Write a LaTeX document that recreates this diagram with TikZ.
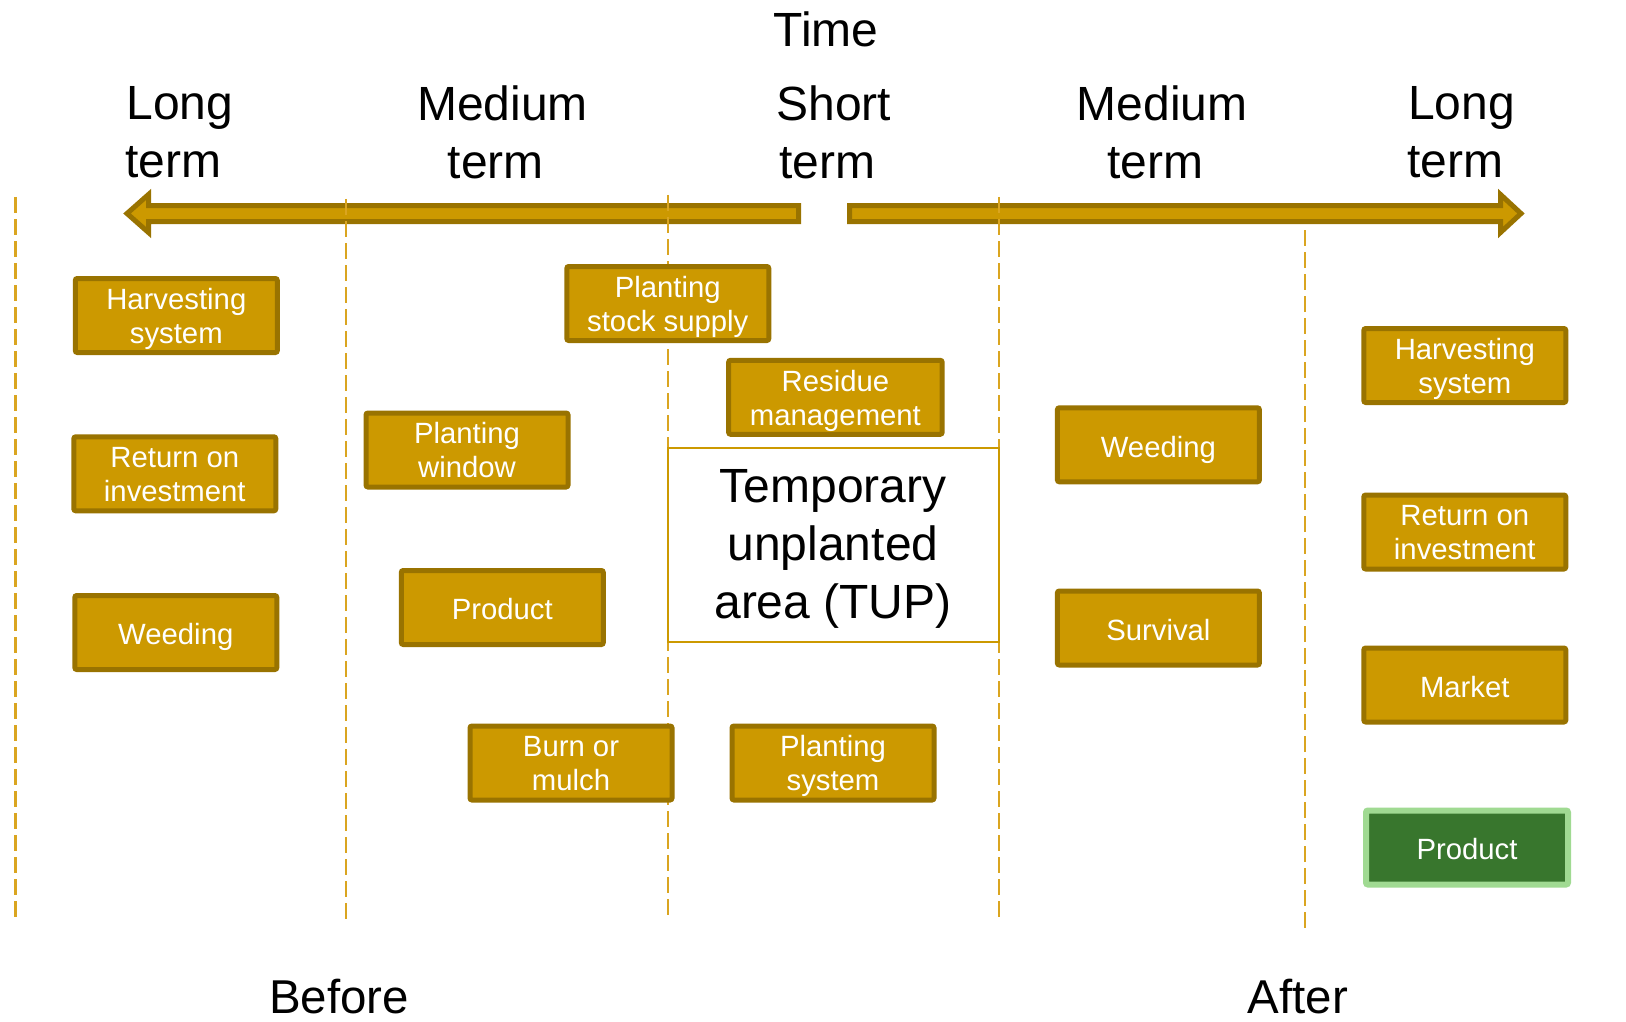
\documentclass[tikz,border=0pt]{standalone}
\usepackage{fontspec}
\setmainfont{Liberation Sans}
\definecolor{gold}{RGB}{204,153,0}
\definecolor{golddark}{RGB}{153,115,0}
\definecolor{dashgold}{RGB}{218,165,32}
\definecolor{prodgreen}{RGB}{56,118,45}
\definecolor{prodlight}{RGB}{160,218,146}
\begin{document}
\begin{tikzpicture}[x=1pt,y=-1pt,
  gbox/.style={draw=golddark, fill=gold, line width=5pt, rounded corners=2pt,
    text=white, font=\fontsize{29.3}{34}\selectfont, align=center,
    minimum width=202pt, minimum height=74pt, inner sep=0pt, text depth=6.2pt,
    execute at begin node={\rule{0pt}{#1}}},
  gbox/.default=31pt,
  greenbox/.style={gbox, draw=prodlight, fill=prodgreen, line width=6pt},
  hdr/.style={font=\fontsize{48}{58}\selectfont, align=center, inner sep=0pt},
  bigtxt/.style={font=\fontsize{48}{58}\selectfont, align=center, inner sep=0pt},
  timeline/.style={draw=golddark, fill=gold, line width=5pt, line join=miter},
  divider/.style={draw=dashgold, line width=2.4pt, dash pattern=on 16pt off 6pt},
  tupline/.style={draw=gold, line width=2.2pt}
]
\fill[white] (0,0) rectangle (1626,1022);
\useasboundingbox (0,0) rectangle (1626,1022);
\clip (0,0) rectangle (1626,1022);

% time arrows
\draw[timeline] (127,213.5) -- (148.5,194.5) -- (148.5,205.5) -- (798.5,205.5)
  -- (798.5,221.5) -- (148.5,221.5) -- (148.5,232.5) -- cycle;
\draw[timeline] (1521,213.5) -- (1500.5,194.5) -- (1500.5,205.5) -- (849.5,205.5)
  -- (849.5,221.5) -- (1500.5,221.5) -- (1500.5,232.5) -- cycle;

% dashed dividers
\coordinate (d1t) at (15.5,197); \coordinate (d1b) at (15.5,917);
\coordinate (d2t) at (346,199); \coordinate (d2b) at (346,919);
\coordinate (d3t) at (668,195); \coordinate (d3b) at (668,915);
\coordinate (d4t) at (999,197); \coordinate (d4b) at (999,917);
\coordinate (d5t) at (1305,230); \coordinate (d5b) at (1305,928);
\draw[divider] (d1t) -- (d1b);
\draw[divider] (d2t) -- (d2b);
\draw[divider] (d3t) -- (d3b);
\draw[divider] (d4t) -- (d4b);
\draw[divider] (d5t) -- (d5b);

% TUP area
\draw[tupline] (668,448) rectangle (999,642);
\node[bigtxt] (tup) at (833,549) {Temporary\\unplanted\\area (TUP)};

% headers
\node[font=\fontsize{48}{54}\selectfont, anchor=base, inner sep=0pt] (time) at (826,47) {Time};
\node[hdr] (lt1) at (180,132.5) {Long\\term\kern13pt};
\node[hdr] (mt1) at (502.4,132.5) {Medium\\term\kern13pt};
\node[hdr] (st) at (833.7,132.5) {Short\\term\kern13pt};
\node[hdr] (mt2) at (1162,132.5) {Medium\\term\kern13pt};
\node[hdr] (lt2) at (1461.6,132.5) {Long\\term\kern13pt};

\node[font=\fontsize{47.5}{55}\selectfont, anchor=base, inner sep=0pt] (before) at (339,1013) {Before};
\node[font=\fontsize{47.5}{55}\selectfont, anchor=base, inner sep=0pt] (after) at (1298,1013) {After};

% boxes
\node[gbox=62pt] (hs1) at (176.3,315.5) {Harvesting\\system};
\node[gbox=62pt] (roi1) at (174.8,473.8) {Return on\\investment};
\node[gbox] (wd1) at (175.8,632.5) {Weeding};
\node[gbox=62pt] (pw) at (467,450) {Planting\\window};
\node[gbox] (pr1) at (502.3,607.5) {Product};
\node[gbox=62pt] (bm) at (571,763) {Burn or\\mulch};
\node[gbox=62pt] (pss) at (667.8,303.5) {Planting\\stock supply};
\node[gbox=62pt, minimum width=213.5pt] (rm) at (835.4,397.3) {Residue\\management};
\node[gbox=62pt] (ps) at (833,763) {Planting\\system};
\node[gbox] (wd2) at (1158.4,444.8) {Weeding};
\node[gbox] (sv) at (1158.4,628) {Survival};
\node[gbox=62pt] (hs2) at (1464.8,365.5) {Harvesting\\system};
\node[gbox=62pt] (roi2) at (1464.8,532) {Return on\\investment};
\node[gbox] (mk) at (1464.8,685) {Market};
\node[greenbox] (pr2) at (1467,847.5) {Product};
\end{tikzpicture}
\end{document}
